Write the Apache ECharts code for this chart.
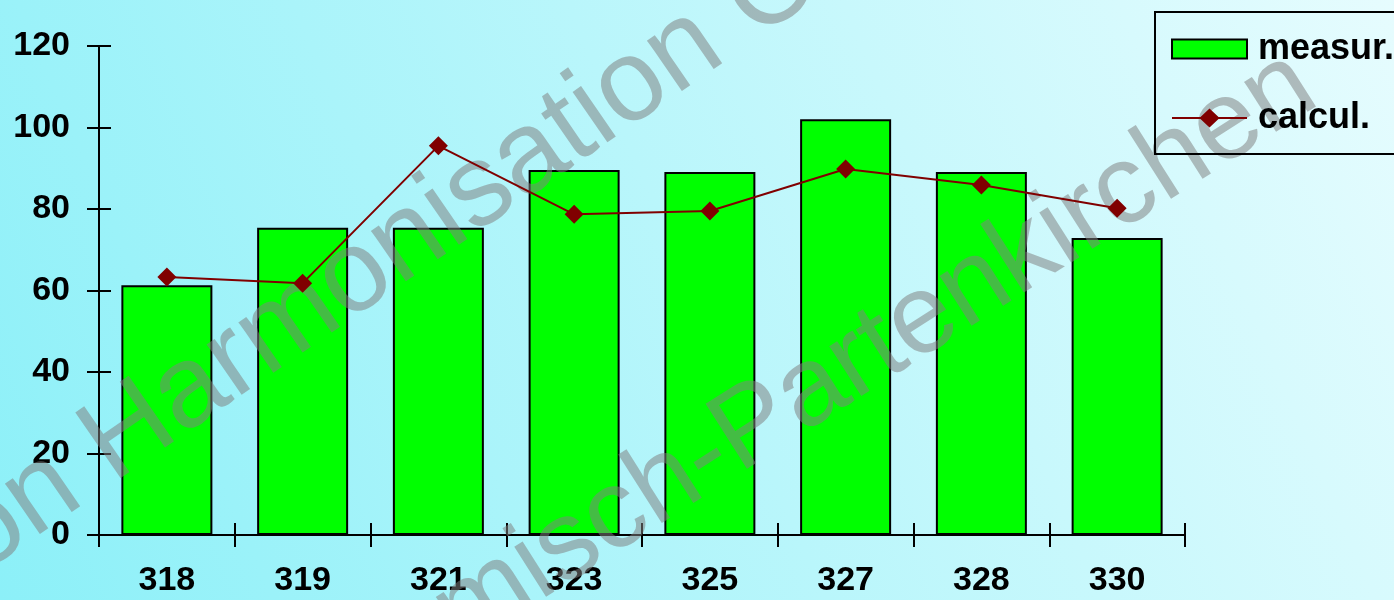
<!DOCTYPE html>
<html>
<head>
<meta charset="utf-8">
<style>
  html, body { margin: 0; padding: 0; }
  #chart { width: 1394px; height: 600px; }
</style>
<script src="https://cdn.jsdelivr.net/npm/echarts@6/dist/echarts.min.js"></script>
</head>
<body>
<div id="chart"></div>
<script>
// stations along the x axis
const categories = ['318', '319', '321', '323', '325', '327', '328', '330']
// measured values (bars)
const measured = [61.3, 75.4, 75.4, 89.6, 89.1, 102, 89.1, 72.9]
// calculated values (line)
const calculated = [63.3, 61.8, 95.5, 78.7, 79.5, 89.8, 85.9, 80.2]
const yMin = 0
const yMax = 120
const yStep = 20

const font = 'Liberation Sans'
const wmColor = 'rgba(128,128,128,0.53)'

const tickStyle = { color: '#000', width: 2 }
const labelStyle = { color: '#000', fontFamily: font, fontWeight: 'bold', fontSize: 34 }
const hiddenLine = { show: true, lineStyle: { color: 'rgba(0,0,0,0)' } }
// line with a diamond in the middle, for the legend
const lineIcon = 'path://M0,8.5L28.5,8.5L37.5,0L46.5,8.5L75,8.5L75,10.5L46.5,10.5L37.5,19L28.5,10.5L0,10.5Z'

const chart = echarts.init(document.getElementById('chart'))
chart.setOption({
  backgroundColor: {
    type: 'linear', x: 0, y: 1, x2: 1, y2: 0,
    colorStops: [
      { offset: 0, color: '#8cf0f8' },
      { offset: 1, color: '#e6fcfe' }
    ]
  },
  animation: false,
  grid: { left: 99, right: 209, top: 46, bottom: 65 },
  legend: {
    orient: 'vertical',
    left: 1155,
    top: 12,
    padding: [19, 30, 18, 16],
    itemGap: 33,
    itemWidth: 75,
    itemHeight: 19,
    borderColor: '#000',
    borderWidth: 2,
    textStyle: { fontFamily: font, fontWeight: 'bold', fontSize: 36, color: '#000', padding: [0, 0, 0, 6] },
    data: [
      { name: 'measur.', icon: 'rect' },
      { name: 'calcul.', icon: lineIcon, itemStyle: { color: '#800000', borderWidth: 0 } }
    ]
  },
  xAxis: [
    {
      type: 'category',
      data: categories,
      position: 'bottom',
      axisLine: { lineStyle: tickStyle },
      axisTick: { show: false },
      axisLabel: Object.assign({ margin: 29 }, labelStyle)
    },
    {
      // crossing ticks: shifted 12px into the grid, 24px long
      type: 'category',
      data: categories,
      position: 'bottom',
      offset: -12,
      axisLine: hiddenLine,
      axisTick: { show: true, length: 24, lineStyle: tickStyle },
      axisLabel: { show: false }
    }
  ],
  yAxis: [
    {
      type: 'value',
      min: yMin, max: yMax, interval: yStep,
      position: 'left',
      axisLine: { show: true, lineStyle: tickStyle },
      axisTick: { show: false },
      splitLine: { show: false },
      axisLabel: Object.assign({ margin: 29 }, labelStyle)
    },
    {
      type: 'value',
      min: yMin, max: yMax, interval: yStep,
      position: 'left',
      offset: -12,
      axisLine: hiddenLine,
      axisTick: { show: true, length: 24, lineStyle: tickStyle },
      splitLine: { show: false },
      axisLabel: { show: false }
    }
  ],
  graphic: [
    {
      type: 'text', x: -71, y: 501, rotation: 34.6 * Math.PI / 180, z: 3,
      style: { text: 'on Harmonisation Co', fontFamily: font, fontSize: 116, fill: wmColor }
    },
    {
      type: 'text', x: 257, y: 678, rotation: 32.5 * Math.PI / 180, z: 3,
      style: { text: 'Garmisch-Partenkirchen', fontFamily: font, fontSize: 112, fill: wmColor }
    }
  ],
  series: [
    {
      name: 'measur.',
      type: 'bar',
      data: measured,
      barWidth: 91,
      z: 2,
      itemStyle: { color: '#00ff00', borderColor: '#000', borderWidth: 2 }
    },
    {
      name: 'calcul.',
      type: 'line',
      data: calculated,
      z: 5,
      symbol: 'diamond',
      symbolSize: 19,
      lineStyle: { color: '#800000', width: 2 },
      itemStyle: { color: '#800000' }
    }
  ]
})
</script>
</body>
</html>
